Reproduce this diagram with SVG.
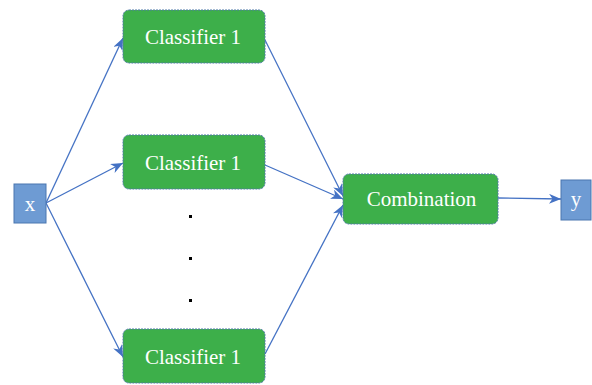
<svg xmlns="http://www.w3.org/2000/svg" width="592" height="385" viewBox="0 0 592 385">
<style>
.io rect{fill:#6e9bd3;stroke:#4a76b0;stroke-width:1}
.io text{fill:#ffffff;font-family:'Liberation Serif','Times New Roman','DejaVu Serif',serif;font-size:21px;text-anchor:middle}
.cl rect{fill:#3daf4a;stroke:#4f79a8;stroke-width:1;stroke-dasharray:2 1}
.cl text{fill:#ffffff;font-family:'Liberation Serif','Times New Roman','DejaVu Serif',serif;font-size:21px;text-anchor:middle}
.conn line{stroke:#4472c4;stroke-width:1.3;marker-end:url(#ah)}
</style>
<defs>
<marker id="ah" viewBox="0 0 12 10" refX="12" refY="5" markerWidth="12" markerHeight="10" markerUnits="userSpaceOnUse" orient="auto">
<path d="M0,0 L12,5 L0,10 L3.5,5 z" fill="#4472c4"/>
</marker>
</defs>
<g id="conn" class="conn">
<line x1="46" y1="203" x2="123" y2="38"/>
<line x1="46" y1="203" x2="123" y2="163"/>
<line x1="46" y1="203" x2="123" y2="357"/>
<line x1="265" y1="40" x2="343" y2="196"/>
<line x1="265" y1="165" x2="343" y2="199"/>
<line x1="265" y1="354" x2="343" y2="205"/>
<line x1="498" y1="198" x2="561" y2="199"/>
</g>
<g id="x" class="io"><rect x="14" y="184" width="32" height="39"/><text x="30" y="211">x</text></g>
<g id="c1" class="cl"><rect x="123" y="10" width="142" height="53" rx="6"/><text x="193" y="44">Classifier 1</text></g>
<g id="c2" class="cl"><rect x="123" y="135" width="142" height="54" rx="6"/><text x="193" y="170">Classifier 1</text></g>
<g id="c3" class="cl"><rect x="123" y="329" width="142" height="54" rx="6"/><text x="193" y="364">Classifier 1</text></g>
<g id="comb" class="cl"><rect x="343" y="174" width="155" height="50" rx="6"/><text x="421.5" y="206">Combination</text></g>
<g id="y" class="io"><rect x="561" y="180" width="30" height="40"/><text x="576" y="206">y</text></g>
<g id="dots" fill="#000">
<rect x="189" y="215" width="3" height="3"/>
<rect x="189" y="257" width="3" height="3"/>
<rect x="189" y="299" width="3" height="3"/>
</g>
</svg>
